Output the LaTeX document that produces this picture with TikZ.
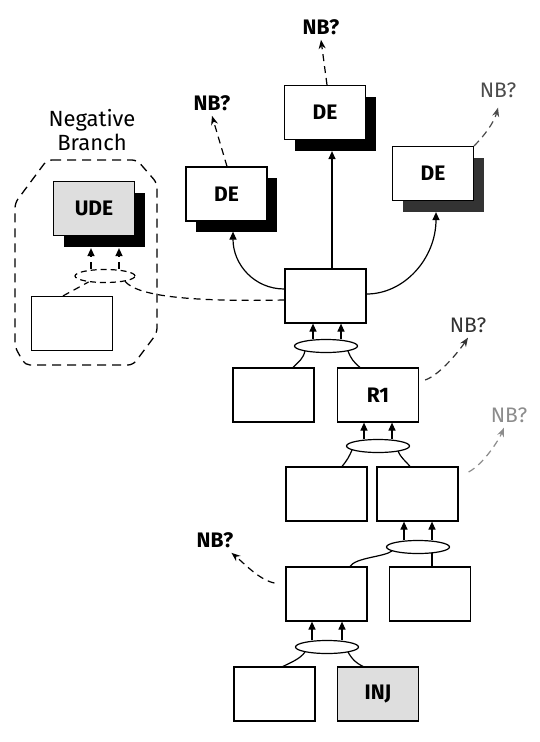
\documentclass[tikz,border=0pt]{standalone}
\usepackage{fontspec}
\setmainfont{Fira Sans}
\usetikzlibrary{shapes.geometric,shadows,arrows.meta}
\begin{document}
\begin{tikzpicture}[x=1pt,y=-1pt,
  box/.style={draw,line width=1.2pt,minimum width=81pt,minimum height=54pt,inner sep=0pt,fill=white,font=\fontsize{21}{23}\selectfont\bfseries},
  shbox/.style={box,drop shadow={shadow xshift=10pt,shadow yshift=-11pt,opacity=1,fill=#1}},
  shbox/.default=black,
  ell/.style={draw,ellipse,line width=1.2pt,minimum width=63pt,minimum height=13pt,inner sep=0pt},
  conn/.style={line width=1.2pt},
  arr/.style={conn,-{Triangle[length=8pt,width=7pt]}},
  dsh/.style={line width=1.2pt,dash pattern=on 7pt off 5pt},
  darr/.style={dsh,-{Triangle[length=8pt,width=7pt]}},
  nbarr/.style={dsh,-{Stealth[length=9pt,width=7pt]}},
  nb/.style={font=\fontsize{21}{23}\selectfont\bfseries,inner sep=5pt},
  nbl/.style={font=\fontsize{21}{23}\selectfont,inner sep=5pt},
  envl/.style={line width=1.3pt,dash pattern=on 9pt off 6pt,rounded corners=5pt}
]
\useasboundingbox (0,0) rectangle (540,742);

% envelope of negative branch
\draw[envl] (47,160) -- (137,160) -- (157,183) -- (157,333) -- (133,365) -- (25,365) -- (15,347) -- (15,203) -- cycle;
\node[font=\fontsize{22}{24}\selectfont,align=center] (negb) at (92,130) {Negative\\Branch};

% boxes
\node[shbox] (deT) at (325,112.5) {DE};
\node[shbox] (deL) at (226.5,194) {DE};
\node[shbox=black!80] (deR) at (433,173.5) {DE};
\node[shbox,fill=black!13] (ude) at (94,208.5) {UDE};
\node[box] (nbx) at (72,323.5) {};
\node[box] (main) at (325.5,296) {};
\node[box] (b2L) at (273.5,395) {};
\node[box] (r1) at (378,395) {R1};
\node[box] (b3L) at (326.5,494) {};
\node[box] (b3R) at (417.5,494) {};
\node[box] (b4L) at (326.5,594) {};
\node[box] (b4R) at (430,594) {};
\node[box] (b5L) at (274.5,694) {};
\node[box,fill=black!13] (inj) at (378,694) {INJ};

% ellipses
\node[ell,dash pattern=on 6pt off 4pt,minimum width=60pt] (eU) at (105,276) {};
\node[ell] (e1) at (326,346) {};
\node[ell] (e2) at (378,446) {};
\node[ell] (e3) at (418,547) {};
\node[ell] (e4) at (327,647) {};

% NB labels
\node[nb] (nbT) at (321,27) {NB?};
\node[nb] (nbL) at (212,103) {NB?};
\node[nbl,text=black!70] (nbR) at (498,90) {NB?};
\node[nbl,text=black!80] (nbR1) at (468,325) {NB?};
\node[nbl,text=black!45] (nbR3) at (509,415) {NB?};
\node[nb] (nbB) at (215,540) {NB?};

% main to DEs
\draw[arr] ([xshift=6.5pt]main.north) -- ([xshift=7pt,yshift=-11pt]deT.south);
\draw[arr] ([yshift=7pt]main.west) .. controls +(-30,0) and +(0,33) .. ([xshift=6.5pt,yshift=-10pt]deL.south);
\draw[arr] ([yshift=2pt]main.east) .. controls +(38,0) and +(0,46) .. ([xshift=3pt,yshift=-11pt]deR.south);

% negative branch connections
\draw[dsh] (eU.-15) .. controls +(12,14) and +(-100,2) .. ([yshift=-4pt]main.west);
\draw[dsh] ([xshift=-9pt]nbx.north) -- (eU.200);
\draw[darr] ([xshift=-14pt]eU.north) -- ([xshift=-3pt,yshift=-12pt]ude.south);
\draw[darr] ([xshift=14pt]eU.north) -- ([xshift=25pt,yshift=-12pt]ude.south);

% ellipse arrows
\draw[arr] ([xshift=-13pt]e1.north) -- ([xshift=-12.5pt]main.south);
\draw[arr] ([xshift=15pt]e1.north) -- ([xshift=15.5pt]main.south);
\draw[arr] ([xshift=-14pt]e2.north) -- ([xshift=-14pt]r1.south);
\draw[arr] ([xshift=14pt]e2.north) -- ([xshift=14pt]r1.south);
\draw[arr] ([xshift=-14pt]e3.north) -- ([xshift=-13.5pt]b3R.south);
\draw[arr] ([xshift=14pt]e3.north) -- ([xshift=14.5pt]b3R.south);
\draw[arr] ([xshift=-15pt]e4.north) -- ([xshift=-14.5pt]b4L.south);
\draw[arr] ([xshift=15pt]e4.north) -- ([xshift=15.5pt]b4L.south);

% ellipse feeders
\draw[conn] ([xshift=-21pt,yshift=-5pt]e1.center) .. controls +(-2,8) and +(6,-6) .. ([xshift=19.5pt]b2L.north);
\draw[conn] ([xshift=22pt,yshift=-5pt]e1.center) .. controls +(3,8) and +(-6,-5) .. ([xshift=-18pt]r1.north);
\draw[conn] ([xshift=-26pt,yshift=-4pt]e2.center) .. controls +(-3,7) and +(5,-6) .. ([xshift=15.5pt]b3L.north);
\draw[conn] ([xshift=20pt,yshift=-5pt]e2.center) .. controls +(3,7) and +(-5,-6) .. ([xshift=-7.5pt]b3R.north);
\draw[conn] ([xshift=-26pt,yshift=-4pt]e3.center) .. controls +(-8,6) and +(6,-9) .. ([xshift=23.5pt]b4L.north);
\draw[conn] ([xshift=14pt,yshift=-6pt]e3.center) -- ([xshift=2pt]b4R.north);
\draw[conn] ([xshift=-22pt,yshift=-5pt]e4.center) .. controls +(-5,7) and +(8,-4) .. ([xshift=8.5pt]b5L.north);
\draw[conn] ([xshift=21pt,yshift=-5pt]e4.center) .. controls +(4,7) and +(-8,-4) .. ([xshift=-15pt]inj.north);

% NB? arrows
\draw[nbarr] ([xshift=2pt]deT.north) -- (nbT.south);
\draw[nbarr] ([xshift=0.5pt]deL.north) -- (nbL.south);
\draw[nbarr,black!70] (deR.north east) .. controls +(10,-10) and +(-4,15) .. ([yshift=-5pt]nbR.south);
\draw[nbarr,black!80] ([xshift=6pt,yshift=15pt]r1.east) .. controls +(15,-5) and +(-8,12) .. (nbR1.south);
\draw[nbarr,black!45] ([xshift=10pt,yshift=22pt]b3R.east) .. controls +(15,-8) and +(-5,12) .. ([xshift=-5pt]nbR3.south);
\draw[nbarr] ([xshift=-11pt,yshift=11pt]b4L.west) .. controls +(-15,-3) and +(12,10) .. ([xshift=-7pt]nbB.south east);
\end{tikzpicture}
\end{document}
